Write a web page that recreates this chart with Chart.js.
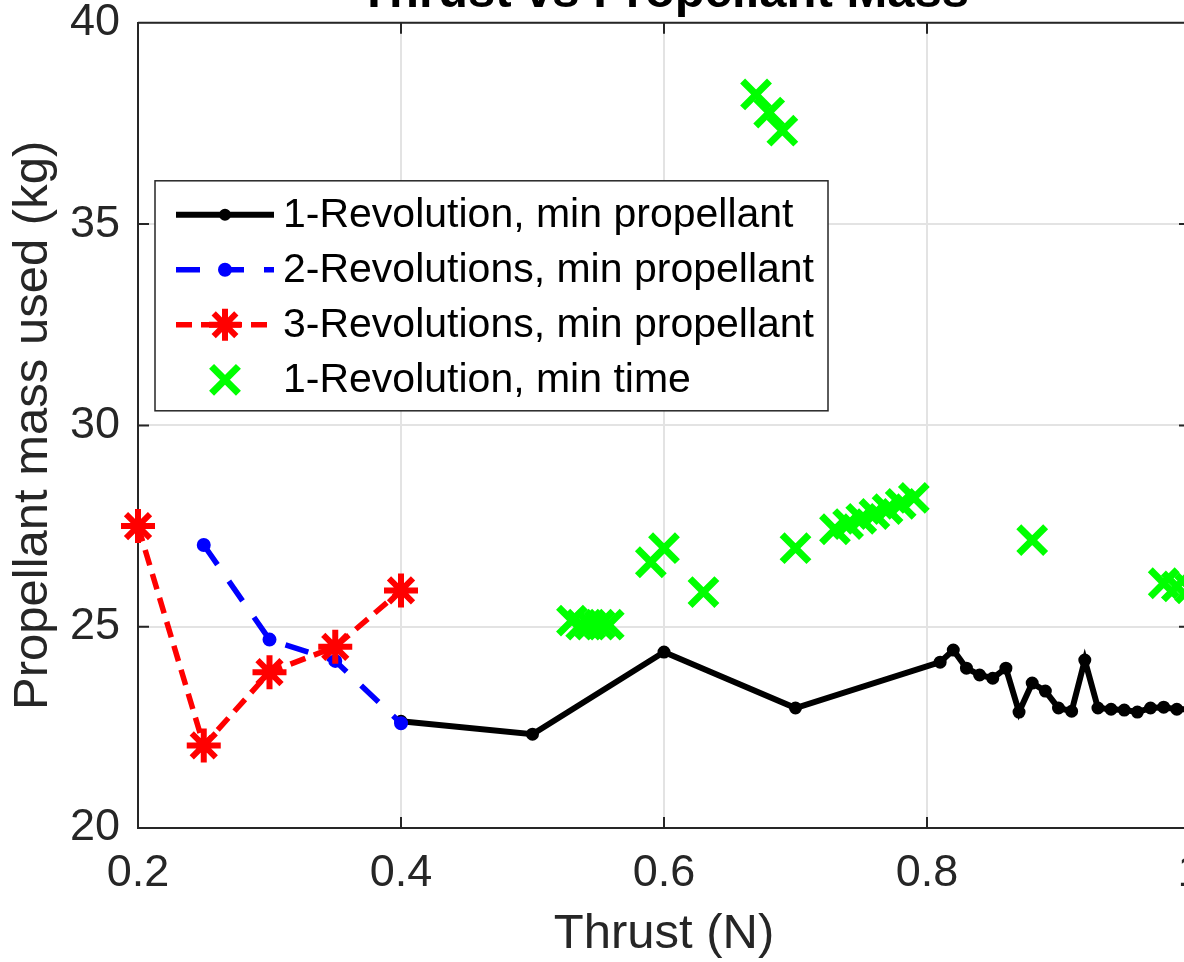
<!DOCTYPE html>
<html>
<head>
<meta charset="utf-8">
<title>Thrust vs Propellant Mass</title>
<script src="https://cdn.jsdelivr.net/npm/chart.js@4.4.1/dist/chart.umd.min.js"></script>
<style>
	html, body {margin:0; padding:0; background:#fff; overflow:hidden; width:1184px; height:962px;}
	#wrap {position:absolute; left:0; top:-40px;} /* title sits partly above the page, like the export */
</style>
</head>
<body>
<div id="wrap"><canvas id="thrust-chart" width="1260" height="1010"></canvas></div>
<script>
// ---- data (thrust in N, propellant in kg) ----
var rev1Thrust = [0.40, 0.50, 0.60, 0.70, 0.81, 0.82, 0.83, 0.84, 0.85, 0.86, 0.87, 0.88, 0.89, 0.90, 0.91, 0.92, 0.93, 0.94, 0.95, 0.96, 0.97, 0.98, 0.99, 1.00];
var rev1Mass   = [22.65, 22.33, 24.37, 22.98, 24.12, 24.42, 23.97, 23.80, 23.72, 23.97, 22.88, 23.60, 23.40, 22.98, 22.90, 24.17, 22.98, 22.95, 22.93, 22.88, 22.98, 23.00, 22.95, 22.95];

var rev2Thrust = [0.25, 0.30, 0.35, 0.40];
var rev2Mass   = [27.03, 24.68, 24.15, 22.60];

var rev3Thrust = [0.20, 0.25, 0.30, 0.35, 0.40];
var rev3Mass   = [27.50, 22.05, 23.87, 24.50, 25.90];

var minTimeThrust = [0.530, 0.537, 0.544, 0.551, 0.558, 0.59, 0.60, 0.63, 0.67, 0.68, 0.69, 0.70, 0.73, 0.74, 0.75, 0.76, 0.77, 0.78, 0.79, 0.88, 0.98, 0.99, 1.00];
var minTimeMass   = [25.15, 25.05, 25.05, 25.05, 25.05, 26.60, 26.95, 25.86, 38.22, 37.77, 37.32, 26.95, 27.42, 27.55, 27.68, 27.80, 27.92, 28.05, 28.20, 27.15, 26.08, 26.00, 25.95];

var xTicks = [0.2, 0.4, 0.6, 0.8, 1];
var yTicks = [20, 25, 30, 35, 40];

var seriesLabels = ["1-Revolution, min propellant", "2-Revolutions, min propellant", "3-Revolutions, min propellant", "1-Revolution, min time"];

// ---- look ----
var FONT = "'Liberation Sans', Arial, Helvetica, sans-serif";
var AX_COLOR = "#262626";
var GRID_COLOR = "#e3e3e3";

function toPts(xs, ys) {
	return xs.map((x,i) => ({x:x, y:ys[i]}));
}

// matlab style ticks point into the box, plus the top/right box edges
var boxTicks = {
	id: "boxTicks",
	beforeDatasetsDraw(chart) {
		var ctx = chart.ctx, a = chart.chartArea, len = 11;
		var sx = chart.scales.x, sy = chart.scales.y;
		ctx.save();
		ctx.strokeStyle = AX_COLOR;
		ctx.lineWidth = 2;
		ctx.beginPath();
		sx.ticks.forEach(t => {
			var px = sx.getPixelForValue(t.value);
			ctx.moveTo(px, a.bottom); ctx.lineTo(px, a.bottom - len);
			ctx.moveTo(px, a.top); ctx.lineTo(px, a.top + len);
		});
		sy.ticks.forEach(t => {
			var py = sy.getPixelForValue(t.value);
			ctx.moveTo(a.left, py); ctx.lineTo(a.left + len, py);
			ctx.moveTo(a.right, py); ctx.lineTo(a.right - len, py);
		});
		ctx.moveTo(a.left, a.top); ctx.lineTo(a.right, a.top); ctx.lineTo(a.right, a.bottom);
		ctx.stroke();
		ctx.restore();
	}
};

// legend box inside the axes (chart.js legend can't sit in the plot area)
var boxLegend = {
	id: "boxLegend",
	afterDatasetsDraw(chart) {
		var ctx = chart.ctx, a = chart.chartArea;
		var left = a.left + 17, top = a.top + 158, w = 673, h = 230;
		ctx.save();
		ctx.fillStyle = "#fff";
		ctx.fillRect(left, top, w, h);
		ctx.strokeStyle = AX_COLOR;
		ctx.lineWidth = 1.5;
		ctx.strokeRect(left, top, w, h);

		chart.data.datasets.forEach((ds, i) => {
			var cy = top + 34 + i * 55;
			var x0 = left + 21, x1 = left + 119, cx = left + 70;
			if (ds.showLine) {
				ctx.save();
				ctx.strokeStyle = ds.borderColor;
				ctx.lineWidth = ds.borderWidth;
				ctx.setLineDash(ds.borderDash || []);
				ctx.beginPath();
				ctx.moveTo(x0, cy); ctx.lineTo(x1, cy);
				ctx.stroke();
				ctx.restore();
			}
			ctx.save();
			ctx.strokeStyle = ds.borderColor;
			ctx.fillStyle = ds.backgroundColor;
			ctx.lineWidth = ds.pointBorderWidth;
			Chart.helpers.drawPoint(ctx, {pointStyle: ds.pointStyle, radius: ds.legendRadius, borderWidth: ds.pointBorderWidth, rotation: 0}, cx, cy);
			ctx.restore();

			ctx.fillStyle = "#000";
			ctx.font = "41px " + FONT;
			ctx.textBaseline = "middle";
			ctx.textAlign = "left";
			ctx.fillText(ds.label, left + 128, cy + 1);
		});
		ctx.restore();
	}
};

var datasets = [
	{
		label: seriesLabels[0], data: toPts(rev1Thrust, rev1Mass), showLine: true, order: 4, clip: false,
		borderColor: "#000000", backgroundColor: "#000000", borderWidth: 6,
		pointStyle: "circle", pointRadius: 5.5, pointBorderWidth: 2, legendRadius: 5
	},
	{
		label: seriesLabels[1], data: toPts(rev2Thrust, rev2Mass), showLine: true, order: 3, clip: false,
		borderColor: "#0000ff", backgroundColor: "#0000ff", borderWidth: 5.5, borderDash: [24, 20],
		pointStyle: "circle", pointRadius: 6, pointBorderWidth: 2, legendRadius: 6
	},
	{
		label: seriesLabels[2], data: toPts(rev3Thrust, rev3Mass), showLine: true, order: 2, clip: false,
		borderColor: "#ff0000", backgroundColor: "#ff0000", borderWidth: 5.5, borderDash: [16, 9],
		pointStyle: "star", pointRadius: 17, pointBorderWidth: 6, legendRadius: 16
	},
	{
		label: seriesLabels[3], data: toPts(minTimeThrust, minTimeMass), showLine: false, order: 1, clip: false,
		borderColor: "#00ff00", backgroundColor: "#00ff00", borderWidth: 7,
		pointStyle: "crossRot", pointRadius: 19, pointBorderWidth: 7, legendRadius: 19
	}
];

var ctx = document.getElementById("thrust-chart").getContext("2d");
var chart = new Chart(ctx, {
	type: "scatter",
	data: {datasets: datasets},
	plugins: [boxTicks, boxLegend],
	options: {
		responsive: false,
		animation: false,
		events: [],
		layout: {padding: {top: 4, right: 70, left: 0, bottom: 0}},
		plugins: {
			legend: {display: false},
			tooltip: {enabled: false},
			title: {
				display: true, fullSize: false,
				text: "Thrust vs Propellant Mass",
				color: "#000",
				font: {family: FONT, size: 49, weight: "bold", lineHeight: 1.2},
				padding: 0
			}
		},
		scales: {
			x: {
				type: "linear", min: 0.2, max: 1,
				afterBuildTicks: s => { s.ticks = xTicks.map(v => ({value: v})); },
				afterFit: s => { s.height = 142; },
				ticks: {color: AX_COLOR, font: {family: FONT, size: 45}, padding: 19, maxRotation: 0, autoSkip: false, callback: v => String(v)},
				grid: {color: GRID_COLOR, lineWidth: 2, drawTicks: false},
				border: {color: AX_COLOR, width: 2},
				title: {display: true, text: "Thrust (N)", color: AX_COLOR, font: {family: FONT, size: 49, lineHeight: 1.2}, padding: {top: 0, bottom: 6}}
			},
			y: {
				type: "linear", min: 20, max: 40,
				afterBuildTicks: s => { s.ticks = yTicks.map(v => ({value: v})); },
				afterFit: s => { s.width = 138; },
				ticks: {color: AX_COLOR, font: {family: FONT, size: 45}, padding: 18, autoSkip: false, callback: v => String(v)},
				grid: {color: GRID_COLOR, lineWidth: 2, drawTicks: false},
				border: {color: AX_COLOR, width: 2},
				title: {display: true, text: "Propellant mass used (kg)", color: AX_COLOR, font: {family: FONT, size: 49, lineHeight: 1.2}, padding: {top: 4, bottom: 0}}
			}
		}
	}
});
</script>
</body>
</html>
